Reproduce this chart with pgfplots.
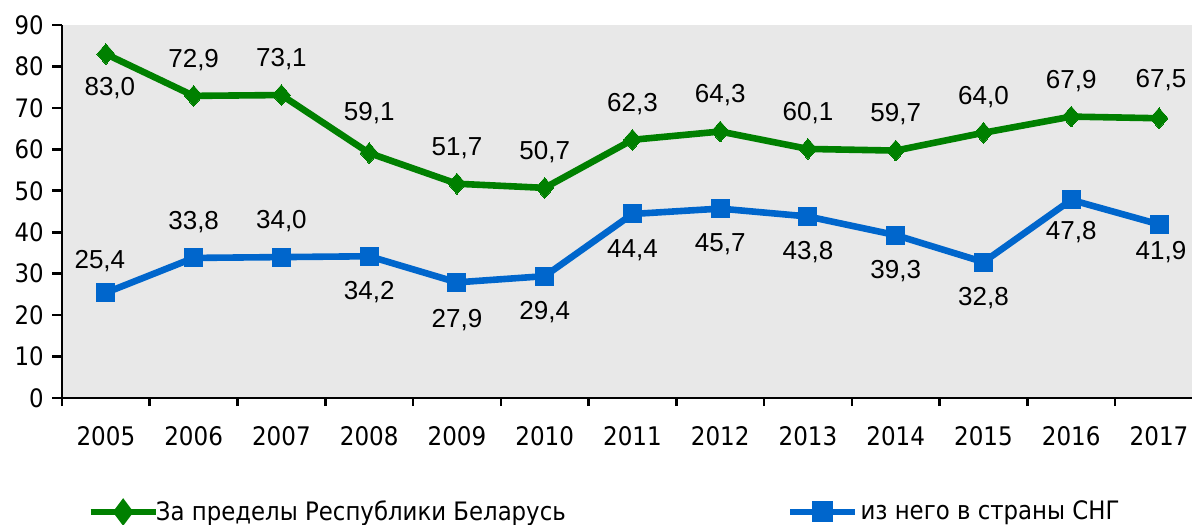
\documentclass[border=0pt]{standalone}
\usepackage{fontspec}
\setmainfont{Liberation Sans}
\newfontfamily\tfont{DejaVu Sans Condensed}
\usepackage{pgfplots}
\usepackage{pgfplotstable}
\pgfplotsset{compat=1.18}
\definecolor{cgreen}{RGB}{0,128,0}
\definecolor{cblue}{RGB}{0,102,204}
\definecolor{bg}{RGB}{232,232,232}

\pgfplotstableread{
x y dy dx
0 83.0 -17 2
1 72.9 18 0
2 73.1 18 0
3 59.1 20 0
4 51.7 18 0
5 50.7 18 0
6 62.3 18 0
7 64.3 18 0
8 60.1 18 0
9 59.7 18 0
10 64.0 18 0
11 67.9 18 0
12 67.5 19 1
}\greendata

\pgfplotstableread{
x y dy dx
0 25.4 16 -3
1 33.8 18 0
2 34.0 18 0
3 34.2 -18 0
4 27.9 -19 0
5 29.4 -18 0
6 44.4 -18 0
7 45.7 -18 0
8 43.8 -18 0
9 39.3 -18 0
10 32.8 -18 0
11 47.8 -16 0
12 41.9 -14 1
}\bluedata

\begin{document}
\begin{tikzpicture}
\begin{axis}[
  at={(0,0)}, anchor=south west,
  scale only axis,
  width=565pt, height=186.5pt,
  xmin=-0.5, xmax=12.376,
  ymin=0, ymax=90,
  axis lines*=left,
  axis line style={line width=1.3pt, black},
  axis background/.style={fill=bg},
  xtick={0,...,12},
  xticklabels={2005,2006,2007,2008,2009,2010,2011,2012,2013,2014,2015,2016,2017},
  major x tick style={draw=none},
  minor xtick={-0.5,0.5,...,11.5},
  minor tick length=4pt,
  minor x tick style={line width=1.3pt, black},
  ytick={0,10,...,90},
  major tick length=5pt,
  major y tick style={line width=1.3pt, black},
  tick align=outside,
  xticklabel style={font=\tfont\fontsize{12.8}{14}\selectfont, anchor=center, yshift=-14pt},
  yticklabel style={font=\tfont\fontsize{12.7}{14}\selectfont, anchor=east, inner sep=0pt, xshift=-4pt},
  /pgf/number format/assume math mode=true,
  clip=false,
  legend columns=2,
  legend style={draw=none, fill=none, inner sep=0pt, anchor=west,
    at={(0.0221,-0.3056)}, font=\tfont\fontsize{12.7}{14}\selectfont,
    nodes={inner sep=0pt},
    /tikz/every even column/.append style={column sep=0pt}},
  legend cell align=left,
  legend image code/.code={
    \draw[#1, mark=none] (0pt,0pt) -- (32.5pt,0pt);
    \draw[#1, only marks, mark options={scale=0.8}] plot coordinates {(16.25pt,0pt)};
  },
  nodes near coords={\pgfmathprintnumber[fixed,fixed zerofill,precision=1,use comma]{\pgfplotspointmeta}},
]
\addplot[color=cgreen, line width=3.3pt, mark=diamond*,
  mark size=5.2pt, mark options={xscale=1.15, line width=0pt, fill=cgreen, draw=cgreen},
  visualization depends on={\thisrow{dy} \as \dy},
  visualization depends on={\thisrow{dx} \as \dx},
  every node near coord/.append style={anchor=center, black, font=\fontsize{13}{15}\selectfont, yshift=\dy pt, xshift=\dx pt}
] table[x=x, y=y] {\greendata};
\addlegendentry{\makebox[314pt][l]{\hspace{-1.5pt}За пределы Республики Беларусь}}
\addplot[color=cblue, line width=3.3pt, mark=square*,
  mark size=4.5pt, mark options={line width=0pt, fill=cblue, draw=cblue},
  visualization depends on={\thisrow{dy} \as \dy},
  visualization depends on={\thisrow{dx} \as \dx},
  every node near coord/.append style={anchor=center, black, font=\fontsize{13}{15}\selectfont, yshift=\dy pt, xshift=\dx pt}
] table[x=x, y=y] {\bluedata};
\addlegendentry{\hspace{1pt}из него в страны СНГ}
\end{axis}
\pgfresetboundingbox
\path[use as bounding box] (-31pt,-63pt) rectangle (565pt,199pt);
\end{tikzpicture}
\end{document}
